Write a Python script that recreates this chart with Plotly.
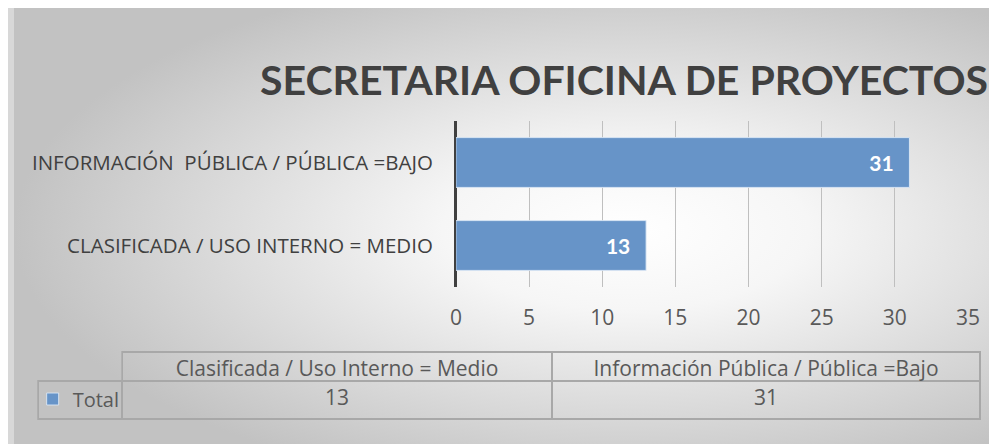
import plotly.graph_objects as go

# ---- data ----
categories = ["CLASIFICADA / USO INTERNO = MEDIO", "INFORMACIÓN \u00a0PÚBLICA / PÚBLICA =BAJO"]
values = [13, 31]
table_headers = ["Clasificada / Uso Interno = Medio", "Información Pública / Pública =Bajo"]
series_name = "Total"
x_ticks = [0, 5, 10, 15, 20, 25, 30, 35]
title_text = "SECRETARIA OFICINA DE PROYECTOS"

W, H = 997, 444
BAR = "#6794C8"
TXT = "#404040"
FONT = "'Open Sans', Lato, sans-serif"
TFONT = "Lato, 'Open Sans', sans-serif"

def px(x):
    return x / W

def py(y):
    return 1 - y / H

fig = go.Figure()

# background gradient panel (decoration)
fig.add_trace(go.Scatter(
    x=[0, 1.25, 1.25, 0, 0], y=[-0.1, -0.1, 1.1, 1.1, -0.1], mode="none", fill="toself",
    fillgradient=dict(type="radial", colorscale=[[0, "#FFFFFF"], [0.3, "#F6F6F6"], [1, "#C2C2C2"]]),
    hoverinfo="skip", showlegend=False, xaxis="x", yaxis="y",
))

# bars
fig.add_trace(go.Bar(
    y=categories, x=values, orientation="h", name=series_name,
    marker=dict(color=BAR, line=dict(color="rgba(220,232,245,0.9)", width=1)),
    texttemplate="%{x}\u00a0\u00a0\u2009", textposition="inside", insidetextanchor="end",
    textfont=dict(family=TFONT, size=21, color="white", weight="bold"),
    xaxis="x2", yaxis="y2", showlegend=True, cliponaxis=False,
))

# data table
fig.add_trace(go.Table(
    domain=dict(x=[px(24.7), px(985)], y=[py(436), py(344)]),
    columnwidth=[85.7, 437.8, 436.8],
    header=dict(
        values=[""] + table_headers,
        line=dict(color=["rgba(0,0,0,0)", "#A8A8A8", "#A8A8A8"], width=2),
        fill=dict(color="rgba(0,0,0,0)"),
        align="center", height=29,
        font=dict(family=FONT, size=21, color="#595959"),
    ),
    cells=dict(
        values=[[""]] + [[v] for v in values],
        line=dict(color="#A8A8A8", width=2),
        fill=dict(color="rgba(0,0,0,0)"),
        align="center", height=38,
        font=dict(family=FONT, size=21, color="#595959"),
    ),
))

fig.update_layout(
    width=W, height=H,
    margin=dict(l=0, r=0, t=0, b=0),
    paper_bgcolor="#D8D8D8", plot_bgcolor="rgba(0,0,0,0)",
    showlegend=True,
    legend=dict(
        x=px(19), y=py(391), xanchor="left", yanchor="middle",
        bgcolor="rgba(0,0,0,0)", borderwidth=0, itemclick=False,
        font=dict(family=FONT, size=20, color="#595959"),
    ),
    xaxis=dict(domain=[0, 1], range=[0, 1], visible=False, fixedrange=True),
    yaxis=dict(domain=[0, 1], range=[0, 1], visible=False, fixedrange=True),
    xaxis2=dict(
        domain=[px(450), px(971.5)], anchor="y2", range=[0, 35],
        tickvals=x_ticks, showgrid=True, gridcolor="#BFBFBF", gridwidth=1,
        zeroline=True, zerolinecolor="#404040", zerolinewidth=3,
        showline=False, ticks="", ticklabelstandoff=16,
        tickfont=dict(family=FONT, size=21, color="#595959"),
    ),
    yaxis2=dict(
        domain=[py(279), py(113)], anchor="x2",
        showgrid=False, showline=False, ticks="", ticklabelstandoff=22,
        tickfont=dict(family=FONT, size=20.5, color=TXT),
    ),
    bargap=0.4,
    annotations=[dict(
        text=f"<b>{title_text}</b>", x=px(621.6), y=py(71), xref="paper", yref="paper",
        xanchor="center", yanchor="middle", showarrow=False,
        font=dict(family=TFONT, size=41, color=TXT),
    )],
)

fig.write_html("out.html")
